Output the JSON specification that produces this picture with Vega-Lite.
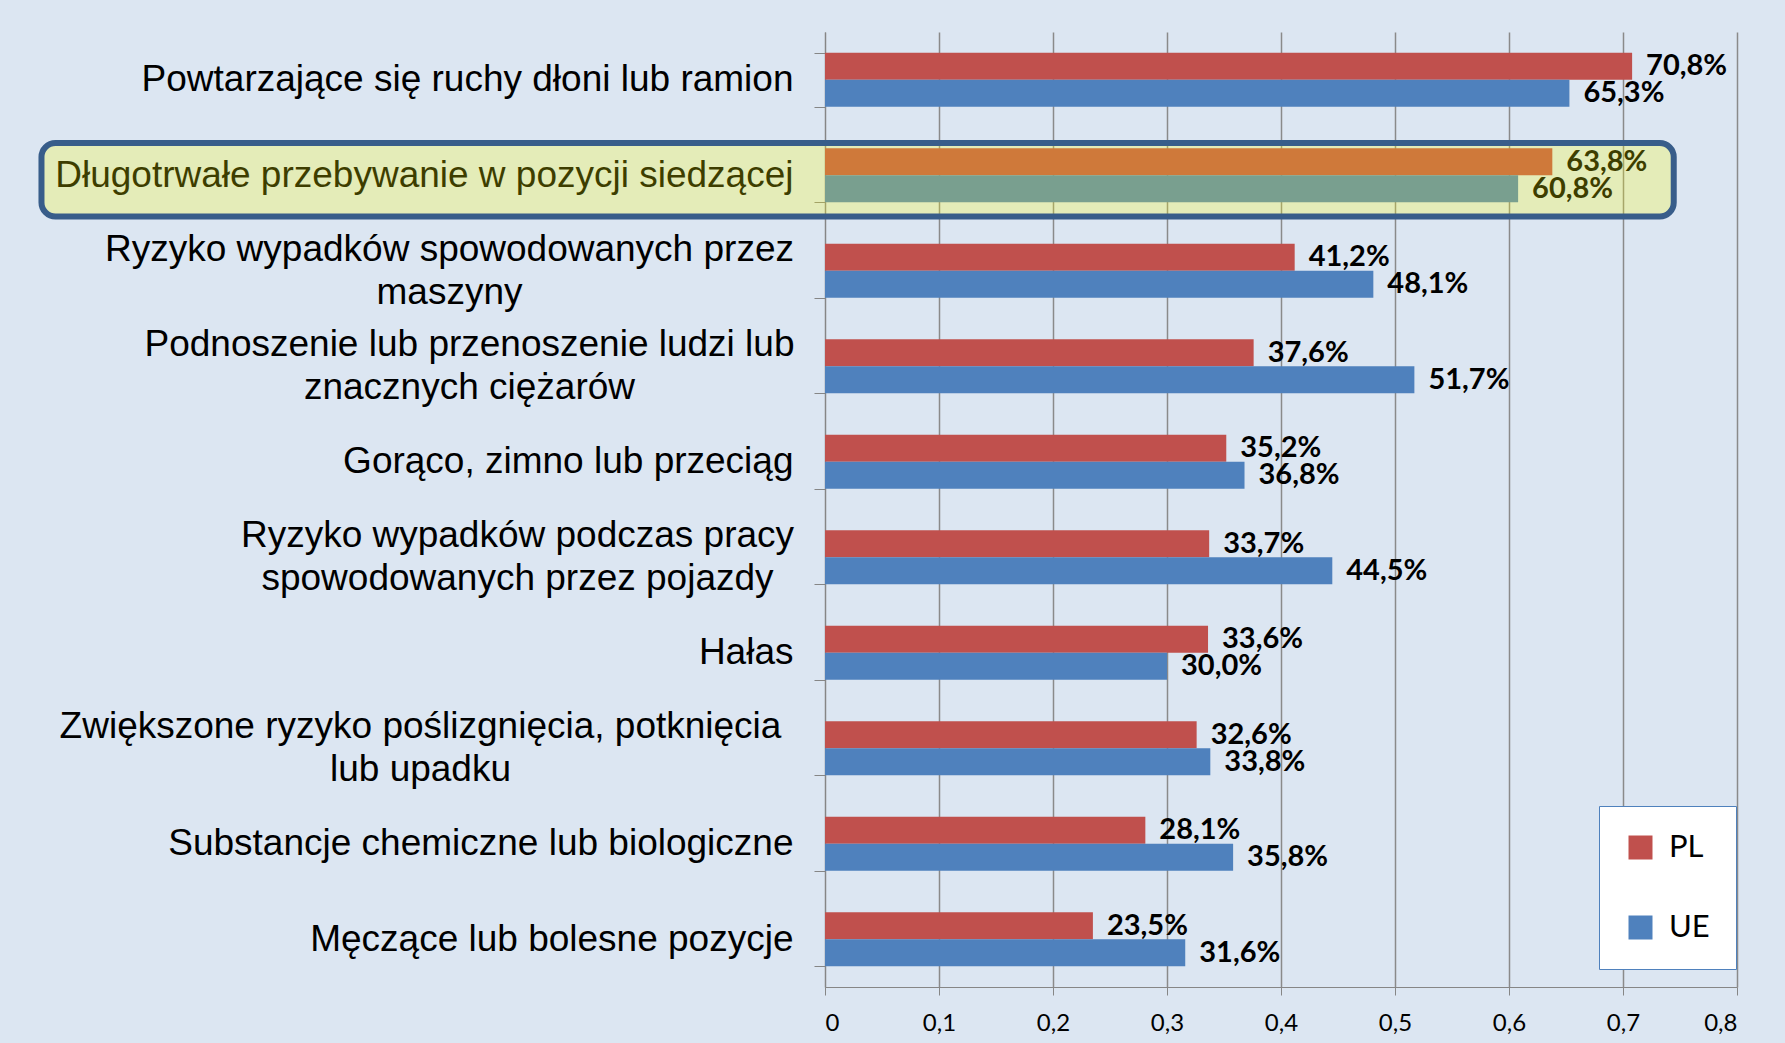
{
  "$schema": "https://vega.github.io/schema/vega-lite/v6.json",
  "width": 912,
  "height": 955,
  "autosize": {"type": "none"},
  "padding": {"left": 825, "top": 32, "right": 48, "bottom": 56},
  "background": "#DCE6F2",
  "config": {
    "locale": {"number": {"decimal": ",", "thousands": "\u00a0", "grouping": [3], "currency": ["", " zł"]}},
    "view": {"stroke": null},
    "legend": {
      "orient": "none",
      "legendX": 774,
      "legendY": 774,
      "fillColor": "#FFFFFF",
      "strokeColor": "#4F81BD",
      "padding": 26,
      "symbolType": "square",
      "symbolSize": 576,
      "symbolStrokeWidth": 0,
      "symbolOpacity": 1,
      "labelFont": "Lato",
      "labelFontSize": 31,
      "labelColor": "#000000",
      "labelOffset": 13,
      "rowPadding": 48,
      "title": null
    }
  },
  "data": {
    "values": [
      {"cat": "Powtarzające się ruchy dłoni lub ramion", "series": "PL", "v": 0.708},
      {"cat": "Powtarzające się ruchy dłoni lub ramion", "series": "UE", "v": 0.653},
      {"cat": "Długotrwałe przebywanie w pozycji siedzącej", "series": "PL", "v": 0.638},
      {"cat": "Długotrwałe przebywanie w pozycji siedzącej", "series": "UE", "v": 0.608},
      {"cat": "Ryzyko wypadków spowodowanych przez maszyny", "series": "PL", "v": 0.412},
      {"cat": "Ryzyko wypadków spowodowanych przez maszyny", "series": "UE", "v": 0.481},
      {"cat": "Podnoszenie lub przenoszenie ludzi lub znacznych ciężarów", "series": "PL", "v": 0.376},
      {"cat": "Podnoszenie lub przenoszenie ludzi lub znacznych ciężarów", "series": "UE", "v": 0.517},
      {"cat": "Gorąco, zimno lub przeciąg", "series": "PL", "v": 0.352},
      {"cat": "Gorąco, zimno lub przeciąg", "series": "UE", "v": 0.368},
      {"cat": "Ryzyko wypadków podczas pracy spowodowanych przez pojazdy", "series": "PL", "v": 0.337},
      {"cat": "Ryzyko wypadków podczas pracy spowodowanych przez pojazdy", "series": "UE", "v": 0.445},
      {"cat": "Hałas", "series": "PL", "v": 0.336},
      {"cat": "Hałas", "series": "UE", "v": 0.300},
      {"cat": "Zwiększone ryzyko poślizgnięcia, potknięcia lub upadku", "series": "PL", "v": 0.326},
      {"cat": "Zwiększone ryzyko poślizgnięcia, potknięcia lub upadku", "series": "UE", "v": 0.338},
      {"cat": "Substancje chemiczne lub biologiczne", "series": "PL", "v": 0.281},
      {"cat": "Substancje chemiczne lub biologiczne", "series": "UE", "v": 0.358},
      {"cat": "Męczące lub bolesne pozycje", "series": "PL", "v": 0.235},
      {"cat": "Męczące lub bolesne pozycje", "series": "UE", "v": 0.316}
    ]
  },
  "encoding": {
    "y": {
      "field": "cat",
      "type": "nominal",
      "sort": null,
      "scale": {"paddingInner": 0.435, "paddingOuter": 0.2175},
      "axis": {
        "title": null,
        "grid": false,
        "tickBand": "extent",
        "tickSize": 11,
        "tickColor": "#868686",
        "domainColor": "#868686",
        "labelFont": "Liberation Sans",
        "labelFontSize": 37,
        "labelColor": "#000000",
        "labelLimit": 1200,
        "labelLineHeight": 43,
        "labelAlign": {
          "condition": {
            "test": "datum.value == 'Ryzyko wypadków spowodowanych przez maszyny' || datum.value == 'Podnoszenie lub przenoszenie ludzi lub znacznych ciężarów' || datum.value == 'Ryzyko wypadków podczas pracy spowodowanych przez pojazdy' || datum.value == 'Zwiększone ryzyko poślizgnięcia, potknięcia lub upadku'",
            "value": "center"
          },
          "value": "right"
        },
        "labelPadding": {
          "condition": [
            {"test": "datum.value == 'Ryzyko wypadków spowodowanych przez maszyny'", "value": 365},
            {"test": "datum.value == 'Podnoszenie lub przenoszenie ludzi lub znacznych ciężarów'", "value": 345},
            {"test": "datum.value == 'Ryzyko wypadków podczas pracy spowodowanych przez pojazdy'", "value": 297},
            {"test": "datum.value == 'Zwiększone ryzyko poślizgnięcia, potknięcia lub upadku'", "value": 394}
          ],
          "value": 21
        },
        "labelOffset": {
          "condition": {
            "test": "datum.value == 'Ryzyko wypadków spowodowanych przez maszyny' || datum.value == 'Podnoszenie lub przenoszenie ludzi lub znacznych ciężarów' || datum.value == 'Ryzyko wypadków podczas pracy spowodowanych przez pojazdy' || datum.value == 'Zwiększone ryzyko poślizgnięcia, potknięcia lub upadku'",
            "value": -21.5
          },
          "value": 0
        },
        "labelExpr": "datum.label == 'Ryzyko wypadków spowodowanych przez maszyny' ? ['Ryzyko wypadków spowodowanych przez', 'maszyny'] : datum.label == 'Podnoszenie lub przenoszenie ludzi lub znacznych ciężarów' ? ['Podnoszenie lub przenoszenie ludzi lub', 'znacznych ciężarów'] : datum.label == 'Ryzyko wypadków podczas pracy spowodowanych przez pojazdy' ? ['Ryzyko wypadków podczas pracy', 'spowodowanych przez pojazdy'] : datum.label == 'Zwiększone ryzyko poślizgnięcia, potknięcia lub upadku' ? ['Zwiększone ryzyko poślizgnięcia, potknięcia', 'lub upadku'] : datum.label"
      }
    },
    "x": {
      "field": "v",
      "type": "quantitative",
      "scale": {"domain": [0, 0.8], "nice": false},
      "axis": {
        "title": null,
        "values": [0, 0.1, 0.2, 0.3, 0.4, 0.5, 0.6, 0.7, 0.8],
        "format": ".1~f",
        "grid": true,
        "gridColor": "#8A8A8A",
        "gridWidth": 1.5,
        "tickSize": 8,
        "tickColor": "#868686",
        "domainColor": "#868686",
        "labelFont": "Lato",
        "labelFontSize": 24,
        "labelColor": "#000000",
        "labelPadding": 16
      }
    }
  },
  "layer": [
    {
      "mark": {"type": "bar"},
      "encoding": {
        "yOffset": {"field": "series", "sort": ["PL", "UE"], "scale": {"paddingInner": 0, "paddingOuter": 0}},
        "color": {
          "field": "series",
          "type": "nominal",
          "scale": {"domain": ["PL", "UE"], "range": ["#C0504D", "#4F81BD"]}
        }
      }
    },
    {
      "mark": {"type": "text", "font": "Lato", "fontWeight": "bold", "fontSize": 29, "align": "left", "baseline": "middle", "dx": 14, "color": "#000000"},
      "encoding": {
        "yOffset": {"field": "series", "sort": ["PL", "UE"], "scale": {"paddingInner": 0, "paddingOuter": 0}},
        "text": {"field": "v", "type": "quantitative", "format": ".1%"}
      }
    },
    {
      "transform": [{"filter": "datum.cat == 'Długotrwałe przebywanie w pozycji siedzącej' && datum.series == 'PL'"}],
      "mark": {"type": "bar", "height": {"band": 1.36}, "yOffset": 4.5, "fill": "#FFFF00", "fillOpacity": 0.24, "stroke": "#385D8A", "strokeWidth": 6, "cornerRadius": 14},
      "encoding": {
        "x": {"datum": -0.6873, "type": "quantitative"},
        "x2": {"datum": 0.7445}
      }
    }
  ]
}
